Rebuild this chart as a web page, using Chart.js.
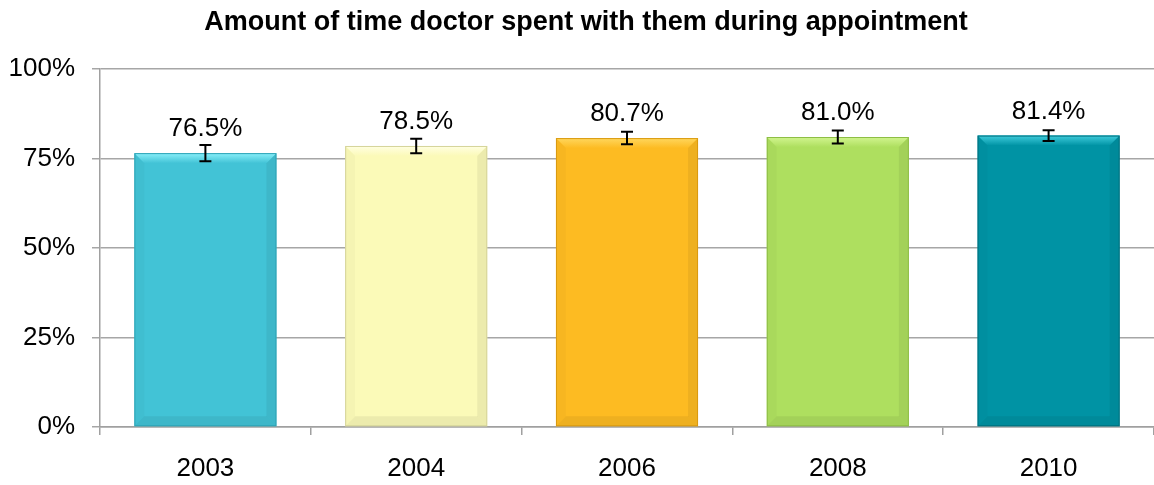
<!DOCTYPE html>
<html>
<head>
<meta charset="utf-8">
<script src="https://cdn.jsdelivr.net/npm/chart.js@4"></script>
<style>
  html, body { margin: 0; padding: 0; background: #fff; }
  #wrap { width: 1154px; height: 485px; }
</style>
</head>
<body>
<div id="wrap"><canvas id="chart"></canvas></div>
<script>
const titleText = "Amount of time doctor spent with them during appointment";
const years = ["2003", "2004", "2006", "2008", "2010"];
const values = [76.5, 78.5, 80.7, 81.0, 81.4];
const errors = [2.3, 2.0, 1.75, 1.8, 1.5];
const yTicks = [0, 25, 50, 75, 100];

const barColors = ["#42C3D6", "#FBFAB8", "#FDBB22", "#AEDF5F", "#0093A4"];
const topColors = ["#8AF0FA", "#FFFFE2", "#FFD75E", "#D2F590", "#3FCCDC"];
const edgeColors = ["#2EA3B5", "#D5D49A", "#D99A10", "#8DBD45", "#006F7D"];

const FONT = "'Liberation Sans', Arial, sans-serif";

// bevel look + error bars + value labels
const decorPlugin = {
  id: "decor",
  afterDatasetsDraw(chart) {
    const ctx = chart.ctx;
    const yScale = chart.scales.y;
    const meta = chart.getDatasetMeta(0);
    meta.data.forEach((bar, i) => {
      const left = bar.x - bar.width / 2;
      const right = bar.x + bar.width / 2;
      const top = bar.y;
      const bottom = bar.base;
      const b = 10;
      ctx.save();
      // top bevel
      const g = ctx.createLinearGradient(0, top, 0, top + b);
      g.addColorStop(0, topColors[i]);
      g.addColorStop(1, barColors[i]);
      ctx.fillStyle = g;
      ctx.beginPath();
      ctx.moveTo(left, top); ctx.lineTo(right, top);
      ctx.lineTo(right - b, top + b); ctx.lineTo(left + b, top + b);
      ctx.closePath(); ctx.fill();
      // left bevel
      ctx.fillStyle = "rgba(0,0,0,0.025)";
      ctx.beginPath();
      ctx.moveTo(left, top); ctx.lineTo(left + b, top + b);
      ctx.lineTo(left + b, bottom - b); ctx.lineTo(left, bottom);
      ctx.closePath(); ctx.fill();
      // right bevel
      ctx.fillStyle = "rgba(0,0,0,0.06)";
      ctx.beginPath();
      ctx.moveTo(right, top); ctx.lineTo(right - b, top + b);
      ctx.lineTo(right - b, bottom - b); ctx.lineTo(right, bottom);
      ctx.closePath(); ctx.fill();
      // bottom bevel
      ctx.fillStyle = "rgba(0,0,0,0.06)";
      ctx.beginPath();
      ctx.moveTo(left, bottom); ctx.lineTo(left + b, bottom - b);
      ctx.lineTo(right - b, bottom - b); ctx.lineTo(right, bottom);
      ctx.closePath(); ctx.fill();
      // outline
      ctx.strokeStyle = edgeColors[i];
      ctx.lineWidth = 1;
      ctx.strokeRect(left + 0.5, top + 0.5, bar.width - 1, bottom - top - 1);

      // error bar
      const yHi = yScale.getPixelForValue(values[i] + errors[i]);
      const yLo = yScale.getPixelForValue(values[i] - errors[i]);
      ctx.strokeStyle = "#000";
      ctx.lineWidth = 2;
      ctx.beginPath();
      ctx.moveTo(bar.x, yHi); ctx.lineTo(bar.x, yLo);
      ctx.moveTo(bar.x - 6, yHi); ctx.lineTo(bar.x + 6, yHi);
      ctx.moveTo(bar.x - 6, yLo); ctx.lineTo(bar.x + 6, yLo);
      ctx.stroke();

      // value label
      ctx.fillStyle = "#000";
      ctx.font = "26px " + FONT;
      ctx.textAlign = "center";
      ctx.textBaseline = "alphabetic";
      ctx.fillText(values[i].toFixed(1) + "%", bar.x, top - 17);
      ctx.restore();
    });
  },
  afterDraw(chart) {
    const ctx = chart.ctx;
    ctx.save();
    ctx.fillStyle = "#000";
    ctx.font = "bold 27px " + FONT;
    ctx.textAlign = "center";
    ctx.textBaseline = "alphabetic";
    ctx.fillText(titleText, 586, 30);
    ctx.restore();
  }
};

new Chart(document.getElementById("chart"), {
  type: "bar",
  data: {
    labels: years,
    datasets: [{
      data: values,
      backgroundColor: barColors,
      borderWidth: 0,
      barPercentage: 0.674,
      categoryPercentage: 1
    }]
  },
  options: {
    responsive: true,
    maintainAspectRatio: false,
    animation: false,
    layout: { padding: { top: 69, right: 0, left: 0, bottom: 0 } },
    plugins: {
      legend: { display: false },
      title: { display: false },
      tooltip: { enabled: false }
    },
    scales: {
      y: {
        min: 0,
        max: 100,
        afterFit(scale) { scale.width = 100; },
        afterBuildTicks(scale) { scale.ticks = yTicks.map(v => ({ value: v })); },
        ticks: {
          color: "#000",
          font: { family: FONT, size: 26 },
          padding: 17,
          callback: v => v + "%"
        },
        grid: { color: "#A6A6A6", lineWidth: 1.5, tickLength: 8 },
        border: { color: "#A0A0A0", width: 1.5 }
      },
      x: {
        afterFit(scale) { scale.height = 58; },
        ticks: {
          color: "#000",
          font: { family: FONT, size: 26 },
          padding: 18
        },
        grid: { drawOnChartArea: false, color: "#A0A0A0", lineWidth: 1.5, tickLength: 8 },
        border: { color: "#A0A0A0", width: 1.5 }
      }
    }
  },
  plugins: [decorPlugin]
});
</script>
</body>
</html>
